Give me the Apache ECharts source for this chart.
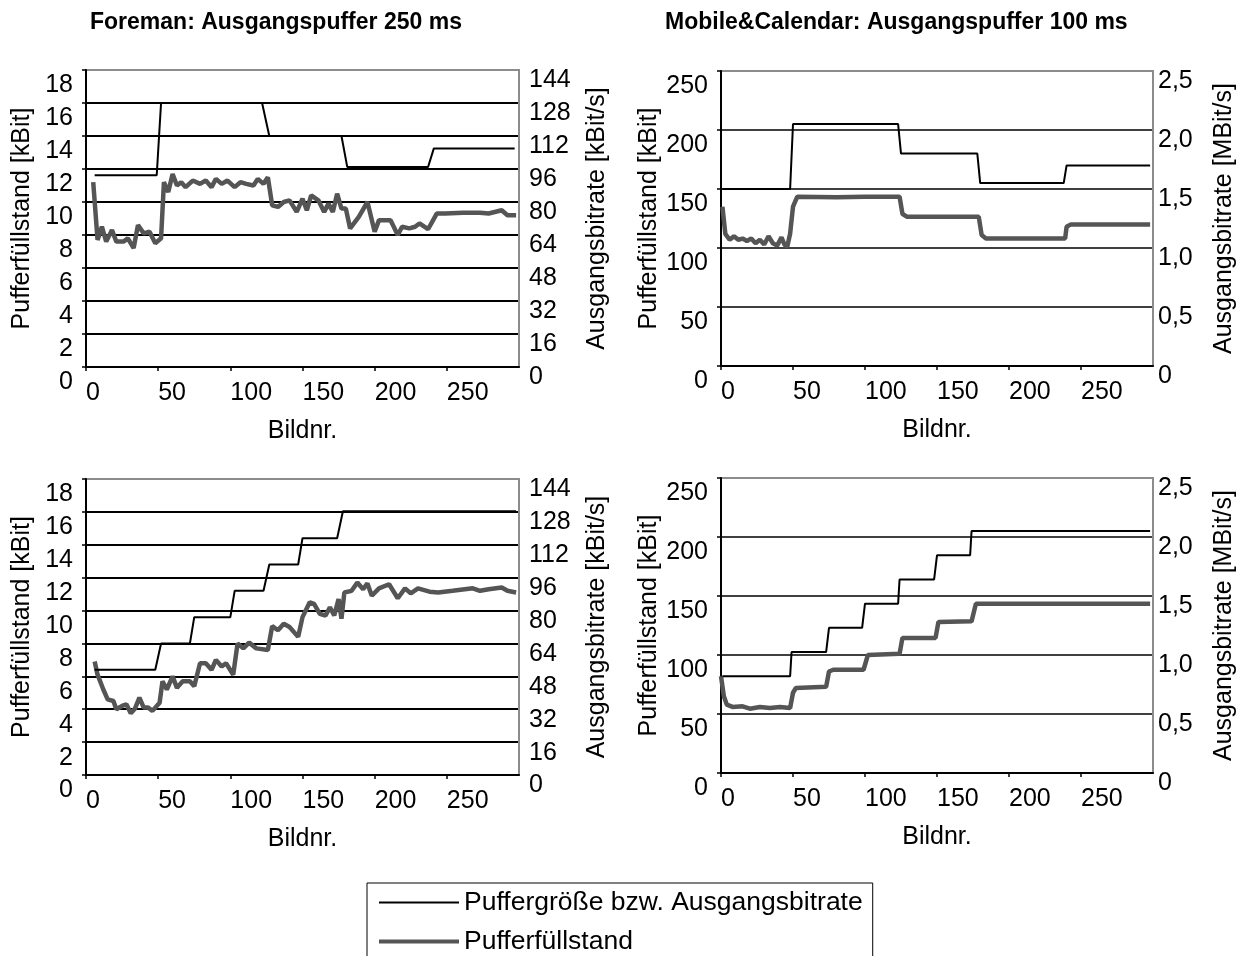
<!DOCTYPE html>
<html>
<head>
<meta charset="utf-8">
<script src="https://cdn.jsdelivr.net/npm/echarts@6/dist/echarts.min.js"></script>
<style>
    html, body { margin: 0; background: #fff; }
    #chart { width: 1246px; height: 956px; }
</style>
</head>
<body>
<div id="chart"></div>
<script>
// Daten: [Bildnr., Wert]
// Foreman, konstante Bitrate mit Wechseln (kBit/s)
const foremanTopRate = [[6, 93], [49, 93], [52, 128], [122, 128], [127, 112], [177, 112], [181, 97], [237, 97], [241, 106], [297, 106]]
// Foreman, Pufferfüllstand (kBit)
const foremanTopFill = [[5, 11.2], [8, 7.7], [11, 8.5], [14, 7.6], [18, 8.3], [21, 7.6], [26, 7.6], [29, 7.8], [33, 7.2], [36, 8.6], [40, 8.1], [44, 8.2], [48, 7.5], [52, 7.8],
    [54, 11.2], [57, 10.6], [60, 11.7], [63, 11.0], [66, 11.2], [69, 10.9], [74, 11.3], [79, 11.1], [83, 11.3], [87, 10.9], [90, 11.4], [94, 11.1], [98, 11.3], [103, 10.9],
    [107, 11.2], [111, 11.1], [116, 11.0], [119, 11.4], [123, 11.1], [126, 11.5], [129, 9.8], [133, 9.7], [137, 10.0], [141, 10.1], [146, 9.4], [150, 10.2], [153, 9.5],
    [156, 10.4], [161, 10.1], [165, 9.4], [168, 9.9], [171, 9.4], [174, 10.5], [177, 9.6], [180, 9.6], [183, 8.4], [189, 9.1], [195, 10.0], [200, 8.2], [203, 8.9],
    [208, 8.9], [211, 8.9], [216, 8.0], [219, 8.5], [224, 8.4], [228, 8.5], [231, 8.7], [237, 8.35], [243, 9.3], [249, 9.3], [261, 9.35], [273, 9.35], [279, 9.3],
    [288, 9.5], [292, 9.2], [298, 9.2]]
// Foreman, stufenweise steigende Bitrate (kBit/s)
const foremanBottomRate = [[6, 51.2], [48, 51.2], [52, 64], [72, 64], [75, 76.8], [100, 76.8], [103, 89.6], [123, 89.6], [127, 102.4], [147, 102.4], [150, 115.2], [174, 115.2], [178, 128.3], [298, 128.3]]
const foremanBottomFill = [[6, 6.9], [8, 6.1], [12, 5.2], [15, 4.6], [19, 4.5], [21, 4.0], [25, 4.2], [28, 4.3], [31, 3.75], [34, 4.05], [37, 4.7], [40, 4.1], [43, 4.1], [46, 3.9],
    [51, 4.4], [53, 5.7], [56, 5.2], [60, 6.0], [63, 5.3], [67, 5.7], [72, 5.7], [75, 5.4], [79, 6.8], [83, 6.8], [87, 6.4], [90, 7.0], [94, 6.6], [97, 6.8], [102, 6.1],
    [105, 8.0], [109, 7.7], [113, 8.05], [118, 7.7], [126, 7.6], [129, 9.05], [133, 8.8], [137, 9.2], [141, 9.0], [147, 8.4], [150, 9.6], [155, 10.5], [158, 10.4],
    [162, 9.8], [166, 9.7], [169, 10.2], [172, 9.7], [175, 10.7], [177, 9.5], [179, 11.1], [184, 11.2], [188, 11.7], [192, 11.3], [195, 11.65], [198, 10.9], [203, 11.35],
    [210, 11.6], [216, 10.75], [221, 11.35], [225, 11.05], [230, 11.35], [238, 11.15], [244, 11.1], [254, 11.2], [268, 11.35], [273, 11.2], [279, 11.3], [288, 11.4],
    [292, 11.2], [298, 11.1]]
// Mobile&Calendar (MBit/s bzw. kBit)
const mobileTopRate = [[1, 1.5], [48, 1.5], [50, 2.05], [123, 2.05], [125, 1.8], [178, 1.8], [180, 1.55], [238, 1.55], [240, 1.7], [298, 1.7]]
const mobileTopFill = [[1, 135], [3, 112], [6, 107], [9, 110], [12, 107], [15, 108], [18, 106], [21, 108], [24, 104], [27, 107], [30, 103], [33, 110], [36, 104], [39, 102],
    [42, 109], [44, 103], [46, 101], [48, 112], [50, 135], [53, 143.5], [80, 143], [100, 143.5], [124, 143.5], [126, 129], [129, 126.5], [179, 126.5], [181, 111],
    [184, 108], [239, 108], [240, 118], [243, 120], [298, 120]]
const mobileBottomRate = [[1, 0.82], [48, 0.82], [49, 1.025], [73, 1.025], [75, 1.23], [98, 1.23], [100, 1.435], [123, 1.435], [124, 1.64], [148, 1.64], [150, 1.845], [173, 1.845], [174, 2.05], [298, 2.05]]
const mobileBottomFill = [[0, 82], [2, 65], [4, 58], [8, 56], [15, 56.5], [20, 54.5], [27, 56], [34, 55], [41, 56], [48, 55], [50, 68], [52, 72], [73, 73], [75, 86], [78, 87.5],
    [99, 87.5], [102, 100], [124, 101], [126, 114.5], [149, 114.5], [151, 128], [174, 128.5], [177, 143.5], [298, 143.5]]

const titles = ['Foreman: Ausgangspuffer 250 ms', 'Mobile&Calendar: Ausgangspuffer 100 ms']
const rateName = 'Puffergröße bzw. Ausgangsbitrate'
const fillName = 'Pufferfüllstand'

const font = 'Liberation Sans, Arial, sans-serif'

// ein Diagramm-Panel pro Eintrag
const panels = [
    { grid: { left: 86, top: 70, width: 433, height: 297 }, leftMax: 18, leftStep: 2, rightMax: 144, rightStep: 16, rightName: 'Ausgangsbitrate [kBit/s]', leftGap: 51, rightGap: 66, rightMargin: 10, rate: foremanTopRate, fill: foremanTopFill },
    { grid: { left: 721, top: 71, width: 432, height: 295 }, leftMax: 250, leftStep: 50, rightMax: 2.5, rightStep: 0.5, rightName: 'Ausgangsbitrate [MBit/s]', leftGap: 59, rightGap: 59, rightMargin: 5, rate: mobileTopRate, fill: mobileTopFill },
    { grid: { left: 86, top: 479, width: 433, height: 296 }, leftMax: 18, leftStep: 2, rightMax: 144, rightStep: 16, rightName: 'Ausgangsbitrate [kBit/s]', leftGap: 51, rightGap: 66, rightMargin: 10, rate: foremanBottomRate, fill: foremanBottomFill },
    { grid: { left: 721, top: 478, width: 432, height: 295 }, leftMax: 250, leftStep: 50, rightMax: 2.5, rightStep: 0.5, rightName: 'Ausgangsbitrate [MBit/s]', leftGap: 59, rightGap: 59, rightMargin: 5, rate: mobileBottomRate, fill: mobileBottomFill },
]

const grids = [], xAxes = [], yAxes = [], series = []

panels.forEach((p, i) => {
    grids.push(Object.assign({ show: true, borderColor: '#8c8c8c', borderWidth: 2 }, p.grid))
    xAxes.push({
        gridIndex: i, type: 'value', min: 0, max: 300, interval: 50,
        name: 'Bildnr.', nameLocation: 'middle', nameGap: 52,
        nameTextStyle: { fontSize: 25, color: '#000', fontFamily: font },
        axisLine: { onZero: false, lineStyle: { color: '#000', width: 2 } },
        axisTick: { show: true, length: 4, lineStyle: { color: '#000', width: 1.5 } },
        axisLabel: { fontSize: 25, color: '#000', fontFamily: font, align: 'left', margin: 14, showMinLabel: true, showMaxLabel: false },
        splitLine: { show: false }
    })
    // linke Achse: Pufferfüllstand
    yAxes.push({
        gridIndex: i, type: 'value', position: 'left', min: 0, max: p.leftMax, interval: p.leftStep,
        name: 'Pufferfüllstand [kBit]', nameLocation: 'middle', nameGap: p.leftGap, nameRotate: 90,
        nameTextStyle: { fontSize: 25, color: '#000', fontFamily: font },
        axisLine: { show: true, onZero: false, lineStyle: { color: '#000', width: 2 } },
        axisTick: { show: true, length: 4, lineStyle: { color: '#000', width: 1.5 } },
        axisLabel: { fontSize: 25, color: '#000', fontFamily: font, margin: 13, verticalAlign: 'top', lineHeight: 31, showMinLabel: true, showMaxLabel: true },
        splitLine: { show: true, showMinLine: false, showMaxLine: false, lineStyle: { color: '#000', width: i % 2 == 0 ? 2 : 1.5 } }
    })
    // rechte Achse: Ausgangsbitrate
    yAxes.push({
        gridIndex: i, type: 'value', position: 'right', min: 0, max: p.rightMax, interval: p.rightStep,
        name: p.rightName, nameLocation: 'middle', nameGap: p.rightGap, nameRotate: 90,
        nameTextStyle: { fontSize: 25, color: '#000', fontFamily: font },
        axisLine: { show: true, onZero: false, lineStyle: { color: '#8c8c8c', width: 2 } },
        axisTick: { show: false },
        axisLabel: {
            fontSize: 25, color: '#000', fontFamily: font, margin: p.rightMargin, verticalAlign: 'top', lineHeight: 21, showMinLabel: true, showMaxLabel: true,
            formatter: v => (p.rightMax < 10 && v != 0) ? v.toFixed(1).replace('.', ',') : String(v)
        },
        splitLine: { show: false }
    })
    series.push({
        name: fillName, type: 'line', xAxisIndex: i, yAxisIndex: i * 2, data: p.fill,
        symbol: 'none', lineStyle: { color: '#555', width: 4.5 }, itemStyle: { color: '#555' }, z: 3
    })
    series.push({
        name: rateName, type: 'line', xAxisIndex: i, yAxisIndex: i * 2 + 1, data: p.rate,
        symbol: 'none', lineStyle: { color: '#000', width: 2 }, itemStyle: { color: '#000' }, z: 4
    })
})

const chart = echarts.init(document.getElementById('chart'))
chart.setOption({
    animation: false,
    backgroundColor: '#fff',
    title: [
        { text: titles[0], left: 90, top: 11, padding: 0, textStyle: { fontSize: 23, fontWeight: 'bold', color: '#000', fontFamily: font } },
        { text: titles[1], left: 665, top: 11, padding: 0, textStyle: { fontSize: 23, fontWeight: 'bold', color: '#000', fontFamily: font } }
    ],
    legend: {
        orient: 'vertical', left: 367, top: 883, height: 140,
        itemWidth: 80, itemHeight: 26, itemGap: 12,
        padding: [6, 10, 30, 12],
        borderColor: '#000', borderWidth: 1,
        textStyle: { fontSize: 26.5, color: '#000', fontFamily: font },
        itemStyle: { borderWidth: 0 },
        data: [
            { name: rateName, icon: 'path://M0,0M80,26M0,12H80V14H0Z', itemStyle: { color: '#000' } },
            { name: fillName, icon: 'path://M0,0M80,26M0,11H80V15H0Z', itemStyle: { color: '#555' } }
        ]
    },
    grid: grids,
    xAxis: xAxes,
    yAxis: yAxes,
    series: series
})
</script>
</body>
</html>
